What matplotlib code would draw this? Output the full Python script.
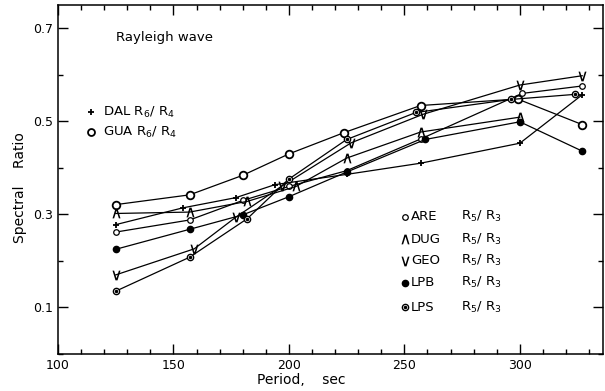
import matplotlib
matplotlib.use('Agg')
import matplotlib.pyplot as plt
from matplotlib.ticker import MultipleLocator

plt.rcParams['font.family'] = 'DejaVu Sans'
plt.rcParams['mathtext.fontset'] = 'dejavusans'

# Datos (periodo en s, razon espectral)
dal_x = [125, 154, 177, 194, 225, 257, 300, 327]
dal_y = [0.278, 0.314, 0.336, 0.364, 0.386, 0.410, 0.453, 0.557]

gua_x = [125, 157, 180, 200, 224, 257, 299, 327]
gua_y = [0.321, 0.342, 0.384, 0.430, 0.476, 0.534, 0.548, 0.493]

are_x = [125, 157, 180, 200, 225, 257, 301, 327]
are_y = [0.262, 0.288, 0.330, 0.360, 0.394, 0.462, 0.560, 0.576]

dug_x = [125, 157, 182, 203, 225, 257, 300]
dug_y = [0.302, 0.305, 0.328, 0.360, 0.421, 0.477, 0.509]

geo_x = [125, 159, 177, 197, 227, 258, 300, 327]
geo_y = [0.170, 0.226, 0.294, 0.361, 0.454, 0.515, 0.578, 0.598]

lpb_x = [125, 157, 180, 200, 225, 259, 300, 327]
lpb_y = [0.225, 0.268, 0.299, 0.338, 0.391, 0.461, 0.499, 0.436]

lps_x = [125, 157, 182, 200, 225, 255, 296, 324]
lps_y = [0.135, 0.208, 0.291, 0.376, 0.461, 0.519, 0.547, 0.558]

fig = plt.figure(figsize=(6.05, 3.91), dpi=100)
ax = fig.add_axes([58/605, 1-354/391, 545/605, 349/391])

lw = 0.9
ax.plot(dal_x, dal_y, '-k', lw=lw, marker='+', ms=4, mew=1.3)
ax.plot(gua_x, gua_y, '-k', lw=lw, marker='o', ms=5.5, mew=1.3, mfc='white')
ax.plot(are_x, are_y, '-k', lw=lw, marker='o', ms=4, mew=0.9, mfc='white')
ax.plot(dug_x, dug_y, '-k', lw=lw, marker=r'$\wedge$', ms=7, mew=0)
ax.plot(geo_x, geo_y, '-k', lw=lw, marker=r'$\vee$', ms=7, mew=0)
ax.plot(lpb_x, lpb_y, '-k', lw=lw, marker='o', ms=4.5, mfc='k', mec='k')
ax.plot(lps_x, lps_y, '-k', lw=lw, marker='o', ms=4.5, mew=1.0, mfc='white')
ax.plot(lps_x, lps_y, 'k.', ms=3)

ax.set_xlim(100, 336)
ax.set_ylim(0, 0.75)
ax.xaxis.set_major_locator(MultipleLocator(50))
ax.xaxis.set_minor_locator(MultipleLocator(10))
ax.set_yticks([0.1, 0.3, 0.5, 0.7])
ax.set_yticklabels(['0.1', '0.3', '0.5', '0.7'])
ax.yaxis.set_minor_locator(MultipleLocator(0.1))
ax.tick_params(which='both', direction='in', top=True, right=True, labelsize=9)
ax.tick_params(which='major', length=7, width=1.0)
ax.tick_params(which='minor', length=3.5, width=1.0)
for s in ax.spines.values():
    s.set_linewidth(1.1)

ax.set_xlabel('Period,    sec', fontsize=10, labelpad=0)
ax.xaxis.set_label_coords(0.446, -0.055)
ax.set_ylabel('Spectral    Ratio', fontsize=10)
ax.yaxis.set_label_coords(-0.056, 0.477)

ax.text(125, 0.68, 'Rayleigh wave', fontsize=9.5, va='center')

# leyenda izquierda
ax.plot([114.3], [0.520], 'k+', ms=4, mew=1.3, clip_on=False)
ax.text(119.5, 0.520, r'DAL R$_6$/ R$_4$', fontsize=9.5, va='center')
ax.plot([114.3], [0.477], 'ko', ms=5, mew=1.3, mfc='white')
ax.text(119.5, 0.477, r'GUA R$_6$/ R$_4$', fontsize=9.5, va='center')

# leyenda derecha
rows = [0.295, 0.247, 0.200, 0.153, 0.101]
names = ['ARE', 'DUG', 'GEO', 'LPB', 'LPS']
ax.plot([250.2], [rows[0]], 'ko', ms=4, mew=0.9, mfc='white')
ax.plot([250.2], [rows[1]], 'k', marker=r'$\wedge$', ms=7, mew=0)
ax.plot([250.2], [rows[2]], 'k', marker=r'$\vee$', ms=7, mew=0)
ax.plot([250.2], [rows[3]], 'ko', ms=4.5)
ax.plot([250.2], [rows[4]], 'ko', ms=4.5, mew=1.0, mfc='white')
ax.plot([250.2], [rows[4]], 'k.', ms=3)
for r, n in zip(rows, names):
    ax.text(252.8, r, n, fontsize=9.5, va='center')
    ax.text(274.5, r, r'R$_5$/ R$_3$', fontsize=9.5, va='center')

fig.savefig('out.png', dpi=100)
